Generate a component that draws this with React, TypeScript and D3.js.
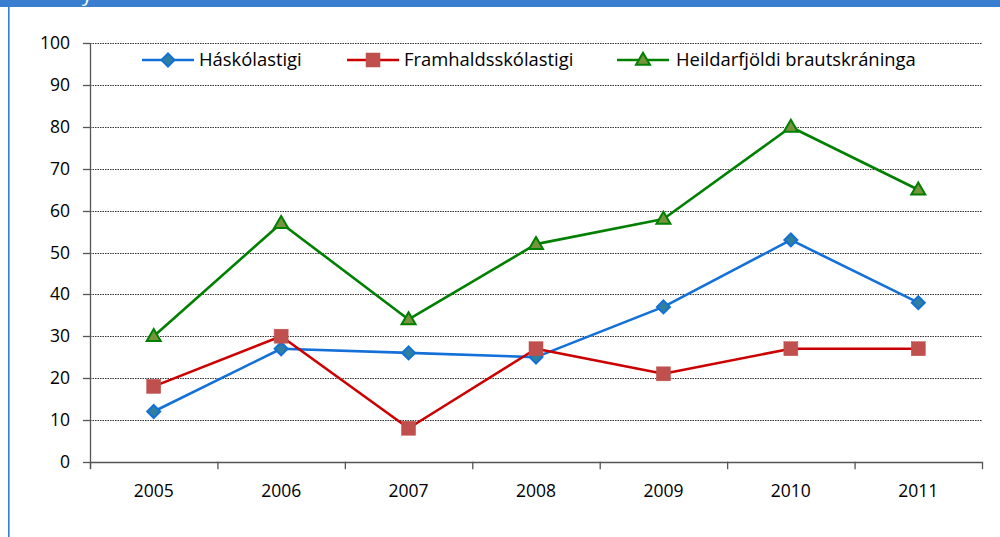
import React from "react";
import * as d3 from "d3";

const years = ["2005", "2006", "2007", "2008", "2009", "2010", "2011"];
const haskolastigi = [12, 27, 26, 25, 37, 53, 38];
const framhalds = [18, 30, 8, 27, 21, 27, 27];
const heildar = [30, 57, 34, 52, 58, 80, 65];
const yTicks = [0, 10, 20, 30, 40, 50, 60, 70, 80, 90, 100];
const seriesNames = ["Háskólastigi", "Framhaldsskólastigi", "Heildarfjöldi brautskráninga"];

const W = 1000;
const H = 537;
const FONT = "'Open Sans', Lato, sans-serif";

const series = [
  { name: seriesNames[0], values: haskolastigi, line: "#1270d8", fill: "#2f7f9e", stroke: "#1270d8", marker: "diamond", legendX: 142, legendTextX: 199 },
  { name: seriesNames[1], values: framhalds, line: "#cc0000", fill: "#c0504d", stroke: "#c0504d", marker: "square", legendX: 347, legendTextX: 404 },
  { name: seriesNames[2], values: heildar, line: "#008000", fill: "#77933c", stroke: "#008000", marker: "triangle", legendX: 617, legendTextX: 676 },
];

function Marker({ type, x, y, fill, stroke }: { type: string; x: number; y: number; fill: string; stroke: string }) {
  if (type === "diamond") {
    const r = 6.5;
    return <path d={`M${x},${y - r}L${x + r},${y}L${x},${y + r}L${x - r},${y}Z`} fill={fill} stroke={stroke} strokeWidth={2} />;
  }
  if (type === "square") {
    const s = 14;
    return <rect x={x - s / 2} y={y - s / 2} width={s} height={s} fill={fill} stroke={stroke} strokeWidth={0.5} />;
  }
  const w = 7, h = 12;
  return <path d={`M${x},${y - h * 0.6}L${x + w},${y + h * 0.4}L${x - w},${y + h * 0.4}Z`} fill={fill} stroke={stroke} strokeWidth={2} strokeLinejoin="miter" />;
}

export default function App() {
  const x = d3.scaleBand().domain(years).range([90, 982]).paddingInner(0).paddingOuter(0);
  const y = d3.scaleLinear().domain([0, 100]).range([461.7, 43.3]);
  const cx = (c: string) => (x(c) as number) + x.bandwidth() / 2;
  const line = d3
    .line<number>()
    .x((_, i) => cx(years[i]))
    .y((d) => y(d));
  const legendY = 60;

  return (
    <svg width={W} height={H} style={{ position: "fixed", left: 0, top: 0, background: "#fff" }} fontFamily={FONT}>
      <rect x={0} y={0} width={W} height={H} fill="#fff" />
      {/* header bar and left border */}
      <rect x={0} y={0} width={W} height={7} fill="#3a7ecf" />
      <rect x={8} y={0} width={1.6} height={H} fill="#3a7ecf" />
      <text x={82} y={1} fontSize={20} fill="#fff" fontFamily={FONT}>y</text>

      {/* gridlines */}
      {yTicks.filter((t) => t > 0).map((t) => (
        <line key={t} x1={90} x2={982} y1={Math.round(y(t)) + 0.5} y2={Math.round(y(t)) + 0.5} stroke="#333" strokeWidth={1} strokeDasharray="1.5,1" />
      ))}

      {/* y axis */}
      <line x1={90.5} x2={90.5} y1={y(100)} y2={y(0) + 7} stroke="#555" strokeWidth={1.3} />
      {yTicks.map((t) => (
        <g key={t}>
          <line x1={83} x2={90} y1={Math.round(y(t)) + 0.5} y2={Math.round(y(t)) + 0.5} stroke="#555" strokeWidth={1.3} />
          <text x={70} y={y(t)} dy="0.35em" textAnchor="end" fontSize={17.5} fill="#000">{t}</text>
        </g>
      ))}

      {/* x axis */}
      <line x1={90} x2={982} y1={Math.round(y(0)) + 0.5} y2={Math.round(y(0)) + 0.5} stroke="#555" strokeWidth={1.3} />
      {[...years.map((c) => x(c) as number), 982].map((v, i) => (
        <line key={i} x1={v + 0.5} x2={v + 0.5} y1={y(0)} y2={y(0) + 7.5} stroke="#555" strokeWidth={1.3} />
      ))}
      {years.map((c) => (
        <text key={c} x={cx(c)} y={491} dy="0.35em" textAnchor="middle" fontSize={17.5} fill="#000">{c}</text>
      ))}

      {/* series lines */}
      {series.map((s) => (
        <path key={s.name} d={line(s.values) || ""} fill="none" stroke={s.line} strokeWidth={2.6} strokeLinejoin="round" />
      ))}
      {/* markers */}
      {series.map((s) => (
        <g key={s.name + "m"}>
          {s.values.map((v, i) => (
            <Marker key={i} type={s.marker} x={cx(years[i])} y={y(v)} fill={s.fill} stroke={s.stroke} />
          ))}
        </g>
      ))}

      {/* legend */}
      {series.map((s) => (
        <g key={s.name + "l"}>
          <line x1={s.legendX} x2={s.legendX + 52} y1={legendY} y2={legendY} stroke={s.line} strokeWidth={2.6} />
          <Marker type={s.marker} x={s.legendX + 26} y={legendY} fill={s.fill} stroke={s.stroke} />
          <text x={s.legendTextX} y={legendY} dy="0.35em" fontSize={18.4} fill="#000">{s.name}</text>
        </g>
      ))}
    </svg>
  );
}
